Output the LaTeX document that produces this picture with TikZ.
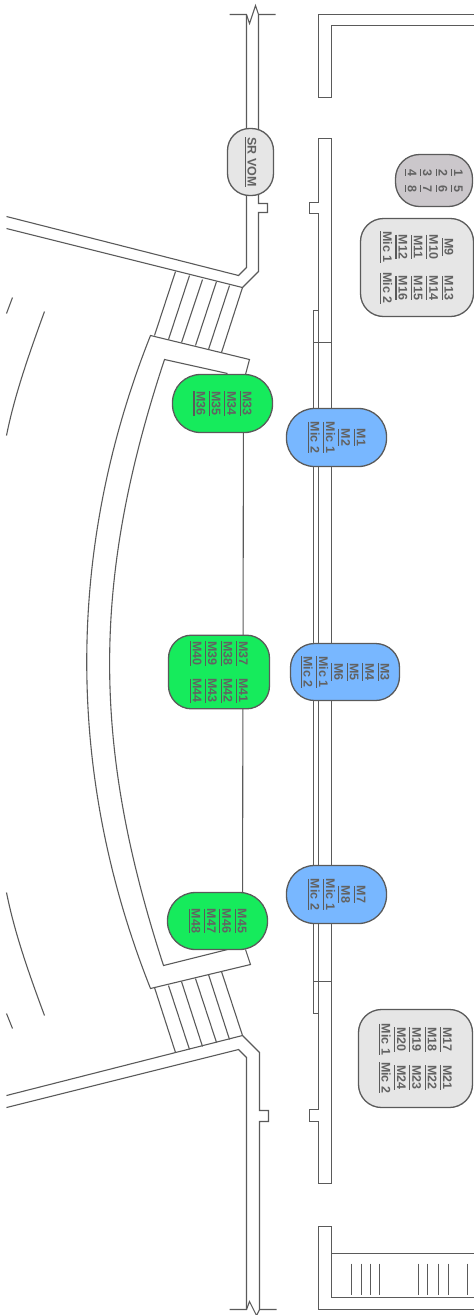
\documentclass[tikz,border=0pt]{standalone}
\usepackage{fontspec}
\setmainfont{Liberation Sans}
\newfontfamily\zonefont[UprightFont={* Bold}]{Liberation Sans}
\usepackage{xcolor}
\usepackage{tikz}
\usetikzlibrary{
  positioning,
  calc
}
\definecolor{wallgray}{HTML}{5A5A5A}
\definecolor{textgray}{HTML}{626262}
\definecolor{zonegreen}{HTML}{16EB5C}
\definecolor{zoneblue}{HTML}{78B7FF}
\definecolor{zonelight}{HTML}{E6E6E6}
\definecolor{zonemauve}{HTML}{CBC7CB}
\newlength{\ulwd}
\newcommand{\ul}[1]{\settowidth{\ulwd}{#1}\leavevmode\rlap{\color{wallgray}\vrule width\ulwd height -2pt depth 3.1pt}#1}
\newcommand{\colgap}[1]{@{\hspace{#1}}}
\tikzset{
  wall/.style={wallgray,line width=1.1pt,line join=miter},
  zone/.style={draw=wallgray,line width=1.3pt,rotate=-90,inner sep=0pt,
    text=textgray,align=center,font=\fontsize{12.5}{15.4}\selectfont\zonefont}
}

\begin{document}
\begin{tikzpicture}[x=1pt,y=-1pt,shift={(0.5,0.5)}]
  \useasboundingbox (-0.5,-0.5) rectangle (473.5,1314.5);

  % upper and lower vom walls
  \draw[wall] (229,14)--(246,14)--(249,23)--(255,5)--(258,14)--(275,14);
  \draw[wall] (246,14)--(246,267)--(238,275)--(6,216);
  \draw[wall] (258,14)--(258,203)--(267,203)--(267,212)--(258,212)--(258,271)--(242,287)--(6,228);
  \draw[wall] (229,1309)--(246,1309)--(249,1301)--(256,1315)--(259,1309)--(276,1309);
  \draw[wall] (246,1309)--(246,1057)--(238,1049)--(6,1107);
  \draw[wall] (259,1309)--(259,1121)--(268,1121)--(268,1110)--(259,1110)--(259,1052)--(242,1035)--(6,1095);

  % steps
  \foreach \xa/\ya/\xb/\yb in {175/271/154/335,189/275/168/339,202/279/181/342,216/281/195/345,229/285/208/349,242/287/221/352}
  \draw[wall] (\xa,\ya)--(\xb,\yb);
  \foreach \xa/\ya/\xb/\yb in {154/987/175/1052,168/985/189/1049,181/981/202/1046,195/978/216/1042,208/974/229/1039,221/971/242/1035}
  \draw[wall] (\xa,\ya)--(\xb,\yb);

  % curved platform
  \draw[wall] (245,374)--(249,359)--(150,335) .. controls (65,549) and (65,774) .. (150,988)--(250,964)--(245,949);
  \draw[wall] (227,373)--(164,359) .. controls (91,580) and (91,744) .. (163,965)--(227,949);

  % far left arcs
  \draw[wall] (12,297)--(6,313);
  \draw[wall] (44,311) .. controls (28,355) and (14,395) .. (6,435);
  \draw[wall] (6,892) .. controls (14,932) and (28,972) .. (44,1015);
  \draw[wall] (6,1013)--(12,1028);

  % front wall
  \draw[wall] (318,97)--(318,14)--(474,14);
  \draw[wall] (318,97)--(331,97)--(331,25)--(474,25);
  \draw[wall] (318,138)--(331,138)--(331,1183)--(318,1183)--(318,1121)--(309,1121)--(309,1109)--(318,1109)--(318,213)--(309,213)--(309,202)--(318,202)--cycle;
  \draw[wall] (318,310)--(313,310)--(313,1013)--(318,1013);
  \draw[wall] (313,342)--(331,342);
  \draw[wall] (313,981)--(331,981);

  % lower right room
  \draw[wall] (474,1309)--(318,1309)--(318,1226)--(331,1226)--(331,1297)--(474,1297);
  \draw[wall] (331,1253)--(474,1253);
  \foreach \x in {351,361,370,379,418,427,438,448,467}
  \draw[wallgray,line width=0.9pt] (\x,1263)--(\x,1294);

  % line joining the green zones
  \coordinate (L_top) at (243,400);
  \coordinate (L_bot) at (242,920);
  \draw[wall] (L_top)--(L_bot);

  % zones
  \node[zone,fill=zonelight,minimum width=67pt,minimum height=46pt,rounded corners=22pt] (Z_vom) at (250,161.5) {\ul{SR VOM}};
  \node[zone,fill=zonemauve,minimum width=52pt,minimum height=77pt,rounded corners=24pt] (Z_eight) at (433.5,180)
    {\begin{tabular}{c\colgap{9pt}c}\ul{1}&\ul{5}\\\ul{2}&\ul{6}\\\ul{3}&\ul{7}\\\ul{4}&\ul{8}\end{tabular}};
  \node[zone,fill=zonelight,minimum width=98pt,minimum height=113pt,rounded corners=23pt] (Z_9) at (416.5,267)
    {\begin{tabular}{c\colgap{10pt}c}\ul{M9}&\ul{M13}\\\ul{M10}&\ul{M14}\\\ul{M11}&\ul{M15}\\\ul{M12}&\ul{M16}\\\ul{Mic 1}&\ul{Mic 2}\end{tabular}};
  \node[zone,fill=zonelight,minimum width=98pt,minimum height=114pt,rounded corners=23pt] (Z_17) at (415,1058)
    {\begin{tabular}{c\colgap{7pt}c}\ul{M17}&\ul{M21}\\\ul{M18}&\ul{M22}\\\ul{M19}&\ul{M23}\\\ul{M20}&\ul{M24}\\\ul{Mic 1}&\ul{Mic 2}\end{tabular}};
  \node[zone,fill=zoneblue,minimum width=58pt,minimum height=100pt,rounded corners=28pt] (Z_1) at (336,437) {\ul{M1}\\\ul{M2}\\\ul{Mic 1}\\\ul{Mic 2}};
  \node[zone,fill=zoneblue,minimum width=57pt,minimum height=109pt,rounded corners=24pt] (Z_3) at (344.5,671.5) {\ul{M3}\\\ul{M4}\\\ul{M5}\\\ul{M6}\\\ul{Mic 1}\\\ul{Mic 2}};
  \node[zone,fill=zoneblue,minimum width=58pt,minimum height=100pt,rounded corners=28pt] (Z_7) at (336,894) {\ul{M7}\\\ul{M8}\\\ul{Mic 1}\\\ul{Mic 2}};
  \node[zone,fill=zonegreen,minimum width=58pt,minimum height=100pt,rounded corners=28pt] (Z_33) at (222,403) {\ul{M33}\\\ul{M34}\\\ul{M35}\\\ul{M36}};
  \node[zone,fill=zonegreen,minimum width=73pt,minimum height=101pt,rounded corners=23pt] (Z_37) at (218.5,671.5)
    {\begin{tabular}{c\colgap{13pt}c}\ul{M37}&\ul{M41}\\\ul{M38}&\ul{M42}\\\ul{M39}&\ul{M43}\\\ul{M40}&\ul{M44}\end{tabular}};
  \node[zone,fill=zonegreen,minimum width=57pt,minimum height=100pt,rounded corners=28pt] (Z_45) at (217,920.5) {\ul{M45}\\\ul{M46}\\\ul{M47}\\\ul{M48}};
\end{tikzpicture}
\end{document}
